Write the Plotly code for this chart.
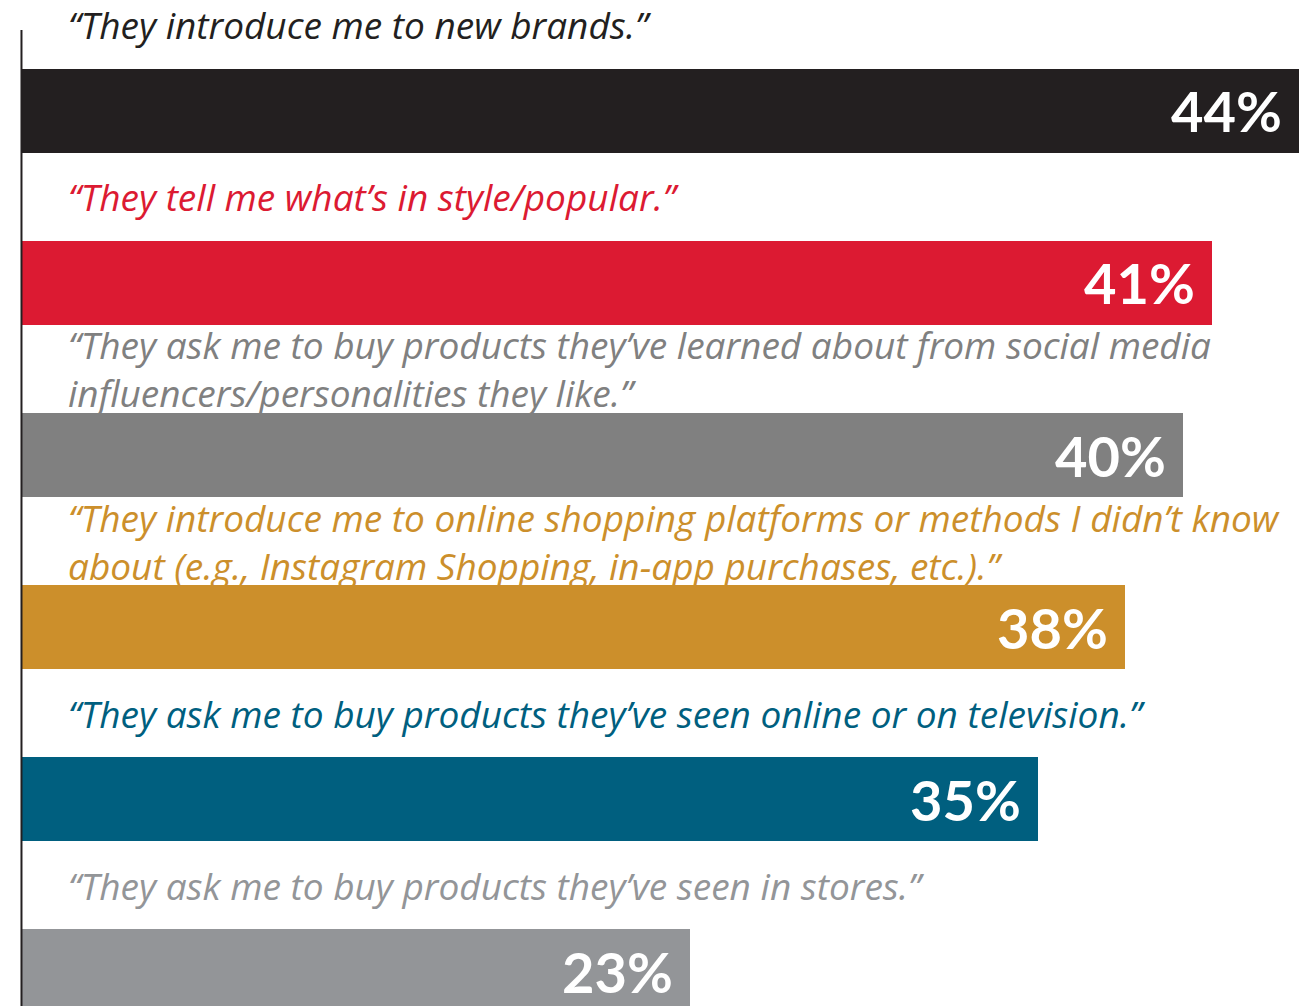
import plotly.graph_objects as go

# Survey statements, percentages and palette
statements = [
    "“They introduce me to new brands.”",
    "“They tell me what’s in style/popular.”",
    "“They ask me to buy products they’ve learned about from social media<br>influencers/personalities they like.”",
    "“They introduce me to online shopping platforms or methods I didn’t know<br>about (e.g., Instagram Shopping, in-app purchases, etc.).”",
    "“They ask me to buy products they’ve seen online or on television.”",
    "“They ask me to buy products they’ve seen in stores.”",
]
percentages = [44, 41, 40, 38, 35, 23]
bar_colors = ["#231f20", "#dc1a32", "#808080", "#cc8f2b", "#005f7f", "#939598"]
text_colors = ["#231f20", "#dc1a32", "#808080", "#cc8f2b", "#005f7f", "#939598"]

positions = list(range(len(percentages)))

fig = go.Figure()
fig.add_trace(go.Bar(
    x=percentages,
    y=positions,
    orientation="h",
    marker=dict(color=bar_colors, line=dict(width=0)),
    width=0.488,
    hoverinfo="skip",
))

annotations = []
for pos, stmt, pct, tcol in zip(positions, statements, percentages, text_colors):
    # statement block centred half a row above the bar
    annotations.append(dict(
        x=1.55, y=pos - 0.5, xref="x", yref="y",
        text=f"<i>{stmt}</i>", showarrow=False,
        xanchor="left", yanchor="middle", align="left",
        borderpad=0,
        font=dict(family="Open Sans", size=37, color=tcol),
    ))
    # value at the end of the bar
    annotations.append(dict(
        x=pct, y=pos, xref="x", yref="y",
        text=f"<b>{pct}%</b>", showarrow=False,
        xanchor="right", yanchor="middle", xshift=-16,
        borderpad=0,
        font=dict(family="Lato", size=56, color="white", weight=900),
    ))

fig.update_layout(
    width=1299, height=1006,
    margin=dict(l=0, r=0, t=0, b=0),
    paper_bgcolor="white", plot_bgcolor="white",
    showlegend=False,
    bargap=0,
    annotations=annotations,
    xaxis=dict(range=[-0.76, 44.0], visible=False, fixedrange=True),
    yaxis=dict(range=[5.203, -0.645], visible=False, fixedrange=True),
    shapes=[dict(
        type="line", xref="x", yref="y",
        x0=-0.02, x1=-0.02, y0=-0.471, y1=5.25,
        line=dict(color="#231f20", width=2),
    )],
)

fig.write_html("out.html", config={"displayModeBar": False})
